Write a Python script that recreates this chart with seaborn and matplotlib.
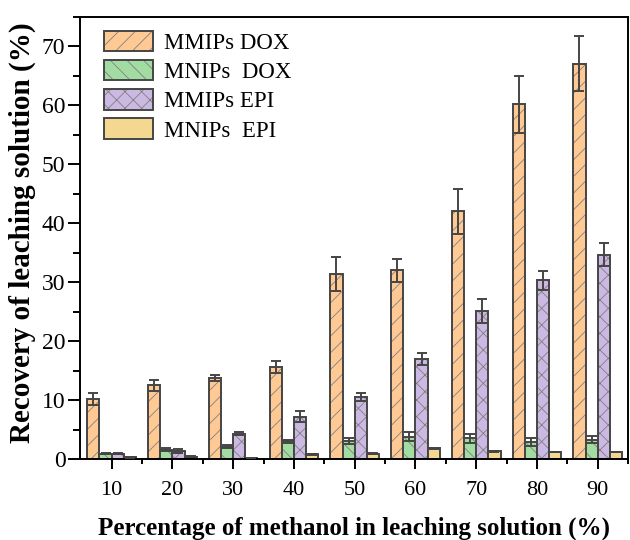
import matplotlib
matplotlib.use("Agg")
import matplotlib.pyplot as plt
from matplotlib.colors import to_rgba
from matplotlib.ticker import MultipleLocator
import numpy as np
import pandas as pd
import seaborn as sns

# Methanol percentage in the leaching solution (x categories)
methanol = ["10", "20", "30", "40", "50", "60", "70", "80", "90"]

# Recovery (%) and standard deviations per series
mmips_dox = [10.2, 12.5, 13.8, 15.6, 31.4, 32.0, 42.0, 60.2, 67.1]
mmips_dox_err = [1.0, 0.9, 0.5, 1.0, 2.9, 2.0, 3.9, 4.8, 4.6]
mnips_dox = [0.9, 1.6, 2.1, 3.0, 3.0, 3.8, 3.5, 2.9, 3.3]
mnips_dox_err = [0.1, 0.2, 0.2, 0.3, 0.5, 0.7, 0.8, 0.7, 0.6]
mmips_epi = [0.9, 1.4, 4.3, 7.2, 10.5, 17.0, 25.1, 30.3, 34.7]
mmips_epi_err = [0.1, 0.3, 0.3, 1.0, 0.7, 1.0, 2.0, 1.6, 1.9]
mnips_epi = [0.3, 0.4, 0.2, 0.8, 0.9, 1.8, 1.3, 1.2, 1.2]
mnips_epi_err = [0.05, 0.05, 0.05, 0.05, 0.05, 0.1, 0.05, 0.05, 0.05]

series = ["MMIPs DOX", "MNIPs  DOX", "MMIPs EPI", "MNIPs  EPI"]
values = [mmips_dox, mnips_dox, mmips_epi, mnips_epi]
errors = [mmips_dox_err, mnips_dox_err, mmips_epi_err, mnips_epi_err]
colors = ["#FFC994", "#A3DCA2", "#CBB9E3", "#F4D892"]
hatches = ["//", "\\\\", "xx", ""]
edge = "#454545"
hatch_col = "#808080"

df = pd.DataFrame({
    "methanol": np.tile(methanol, len(series)),
    "series": np.repeat(series, len(methanol)),
    "recovery": np.concatenate(values),
})

sns.set_style("ticks")
plt.rcParams["font.family"] = ["Liberation Serif", "DejaVu Serif"]
plt.rcParams["hatch.linewidth"] = 0.6
plt.rcParams["text.color"] = "black"
plt.rcParams["axes.labelcolor"] = "black"
plt.rcParams["xtick.direction"] = "out"
plt.rcParams["ytick.direction"] = "out"

fig = plt.figure(figsize=(6.3, 5.4), dpi=100)
ax = fig.add_axes([0.127, 0.15, 0.870, 0.8185])

sns.barplot(data=df, x="methanol", y="recovery", hue="series",
            order=methanol, hue_order=series, palette=colors, saturation=1,
            errorbar=None, width=0.8, edgecolor=edge, linewidth=1.4,
            legend=False, ax=ax)

bar_containers = list(ax.containers)
for cont, hatch, err in zip(bar_containers, hatches, errors):
    xs, ys = [], []
    for patch in cont.patches:
        patch.set_hatch(hatch)
        patch._hatch_color = to_rgba(hatch_col)
        xs.append(patch.get_x() + patch.get_width() / 2)
        ys.append(patch.get_height())
    ax.errorbar(xs, ys, yerr=err, fmt="none", ecolor=edge,
                elinewidth=1.4, capsize=3.6, capthick=1.4, zorder=5)

ax.set_xlim(-0.52, 8.5)
ax.set_ylim(0, 75)
ax.yaxis.set_major_locator(MultipleLocator(10))
ax.yaxis.set_minor_locator(MultipleLocator(5))
ax.set_xticks(np.arange(len(methanol)) + 0.5, minor=True)

ax.tick_params(axis="both", which="both", width=1.4, color="black",
               labelcolor="black")
ax.tick_params(axis="x", which="major", length=7, labelsize=16, pad=9)
ax.tick_params(axis="x", which="minor", length=3.5)
ax.tick_params(axis="y", which="major", length=8.5, labelsize=17, pad=2)
ax.tick_params(axis="y", which="minor", length=5)

for side in ["left", "bottom", "top", "right"]:
    ax.spines[side].set_visible(True)
    ax.spines[side].set_linewidth(1.4)
    ax.spines[side].set_color("black")

ax.set_xlabel("Percentage of methanol in leaching solution (%)",
              fontsize=18, fontweight="bold", labelpad=12)
ax.set_ylabel("Recovery of leaching solution (%)",
              fontsize=21, fontweight="bold")
ax.yaxis.set_label_coords(-0.08, 0.513)

handles = [cont.patches[0] for cont in bar_containers]
leg = ax.legend(handles, series, loc="upper left", frameon=False,
                fontsize=16.5, handlelength=2.1, handleheight=1.0,
                handletextpad=0.5, labelspacing=0.27,
                bbox_to_anchor=(0.007, 1.016))
for h in leg.legend_handles:
    h._hatch_color = to_rgba(hatch_col)

fig.savefig("out.png", dpi=100)
